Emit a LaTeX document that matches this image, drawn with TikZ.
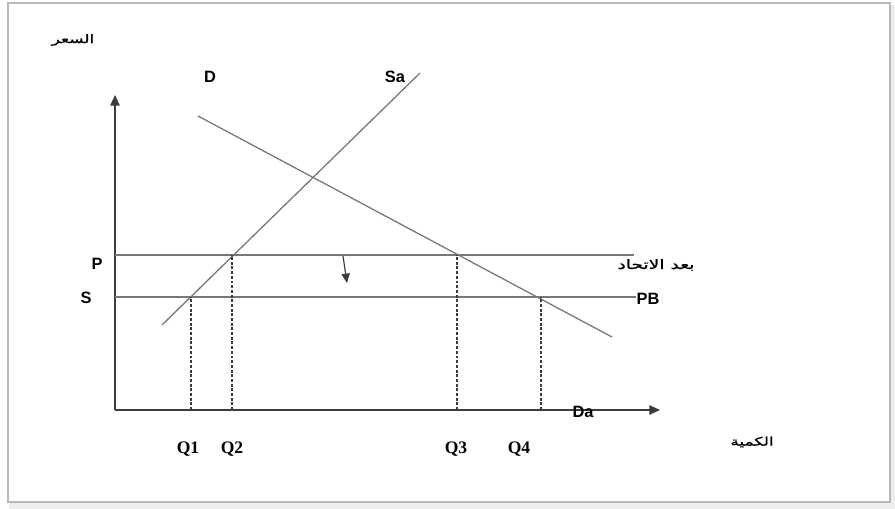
\documentclass[tikz,border=0pt]{standalone}
\usepackage{fontspec}
\setmainfont{Liberation Serif}
\setsansfont{Liberation Sans}
\newfontfamily\arabicfont[Script=Arabic,FakeStretch=1.45,FakeBold=1.2]{DejaVu Sans}
\TeXXeTstate=1
\usetikzlibrary{arrows.meta}
\definecolor{curvegray}{RGB}{120,120,120}
\definecolor{axisgray}{RGB}{60,60,60}
\definecolor{framegray}{RGB}{185,185,185}

\tikzset{
  curve/.style={draw=curvegray, line width=1.1pt},
  axis/.style={draw=axisgray, line width=1.1pt, -{Triangle[length=9pt,width=8pt]}},
  guide/.style={draw=axisgray, line width=1pt, dash pattern=on 2.5pt off 1.5pt},
  lbl/.style={font=\sffamily\bfseries\fontsize{14}{16}\selectfont, inner sep=1pt},
  qlbl/.style={font=\rmfamily\bfseries\fontsize{15}{17}\selectfont, inner sep=1pt},
  arlbl/.style={font=\arabicfont\fontsize{11}{13}\selectfont, inner sep=1pt}
}

\begin{document}
\begin{tikzpicture}[x=0.03cm, y=-0.03cm]
  \useasboundingbox (0,0) rectangle (895,509);
  % frame with a soft shadow
  \fill[black!14] (11,8) rectangle (895,509);
  \fill[black!7] (9,5) rectangle (895,509);
  \fill[white, draw=framegray, line width=0.9pt] (8,3) rectangle (890,502);

  % axes
  \coordinate (O) at (115,410);
  \coordinate (ytop) at (115,95);
  \coordinate (xend) at (660,410);
  \draw[axis] (O) -- (ytop);
  \draw[axis] (O) -- (xend);

  % price levels
  \coordinate (P0) at (115,255);
  \coordinate (P1) at (634,255);
  \coordinate (S0) at (115,297);
  \coordinate (S1) at (636,297);
  \draw[curve] (P0) -- (P1);
  \draw[curve] (S0) -- (S1);

  % supply and demand
  \coordinate (sa0) at (162,325);
  \coordinate (sa1) at (420,73);
  \coordinate (d0) at (198,116);
  \coordinate (d1) at (612,337);
  \draw[curve] (sa0) -- (sa1);
  \draw[curve] (d0) -- (d1);

  % quantities
  \coordinate (q1) at (191,297);
  \coordinate (q2) at (232,255);
  \coordinate (q3) at (457,255);
  \coordinate (q4) at (541,297);
  \coordinate (q1b) at (191,410);
  \coordinate (q2b) at (232,410);
  \coordinate (q3b) at (457,410);
  \coordinate (q4b) at (541,410);
  \draw[guide] (q1b) -- (q1);
  \draw[guide] (q2b) -- (q2);
  \draw[guide] (q3b) -- (q3);
  \draw[guide] (q4b) -- (q4);

  % price drop
  \coordinate (drop0) at (343,256);
  \coordinate (drop1) at (347,283);
  \draw[draw=axisgray, line width=1pt, -{Triangle[length=8pt,width=7pt]}] (drop0) -- (drop1);

  % labels
  \node[lbl] (lP) at (97,264) {P};
  \node[lbl] (lS) at (86,298) {S};
  \node[lbl] (lD) at (210,77) {D};
  \node[lbl] (lSa) at (395,77) {Sa};
  \node[lbl] (lPB) at (648,299) {PB};
  \node[lbl] (lDa) at (583,412) {Da};
  \node[qlbl] (lQ1) at (188,449) {Q1};
  \node[qlbl] (lQ2) at (232,449) {Q2};
  \node[qlbl] (lQ3) at (456,449) {Q3};
  \node[qlbl] (lQ4) at (519,449) {Q4};
  \node[arlbl] (after) at (656,265) {\beginR بعد الاتحاد\endR};
  \node[arlbl, font=\arabicfont\fontsize{10}{12}\selectfont] (qty) at (752,442) {\beginR الكمية\endR};
  \node[arlbl, font=\arabicfont\fontsize{10}{12}\selectfont] (price) at (73,40) {\beginR السعر\endR};
\end{tikzpicture}
\end{document}
